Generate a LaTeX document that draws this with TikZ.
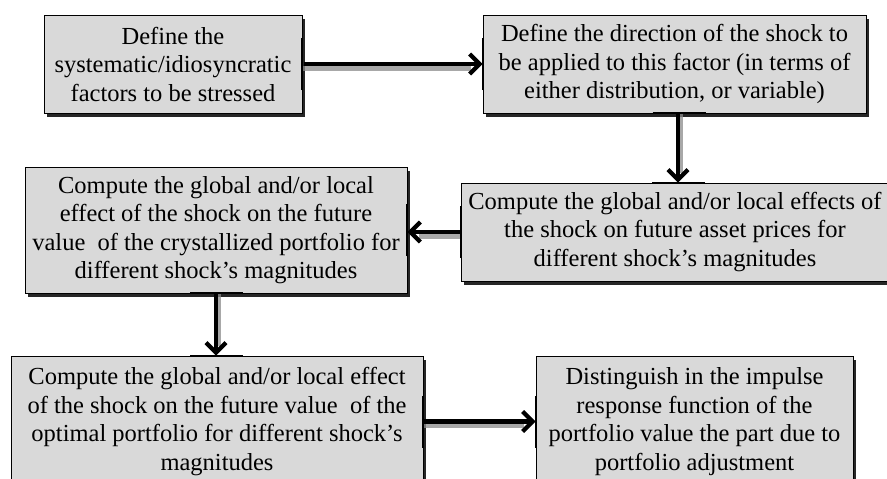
\documentclass[tikz,border=0pt]{standalone}
\usepackage{fontspec}
\setmainfont{Liberation Serif}
\usetikzlibrary{arrows.meta,shadows}
\definecolor{boxgray}{RGB}{217,217,217}
\definecolor{shadegray}{RGB}{140,140,140}
\tikzset{
  stepbox/.style={draw=black, line width=0.9pt, fill=boxgray, inner sep=0pt,
    align=center, font=\fontsize{24.5}{28.5}\selectfont,
    drop shadow={shadow xshift=2.5pt, shadow yshift=-4pt, fill=black, opacity=0.85}},
  flow/.style={line width=4.2pt, -{Straight Barb[length=10pt,width=20pt]}},
  flowshade/.style={line width=4.5pt, draw=shadegray, opacity=0.75},
  edgemark/.style={line width=2pt, black}
}
\begin{document}
\begin{tikzpicture}[x=1pt,y=-1pt]
\useasboundingbox (0,0) rectangle (887,479);
\clip (0,0) rectangle (887,479);
\fill[white] (0,0) rectangle (887,479);

\node[stepbox, minimum width=258pt, minimum height=98pt] (b1) at (173,64)
  {Define the\\systematic/idiosyncratic\\factors to be stressed};
\node[stepbox, minimum width=383pt, minimum height=98pt] (b2) at (674.5,64)
  {Define the direction of the shock to\\be applied to this factor (in terms of\\either distribution, or variable)};
\node[stepbox, minimum width=428pt, minimum height=98pt] (b3) at (675,232)
  {Compute the global and/or local effects of\\the shock on future asset prices for\\different shock’s magnitudes};
\node[stepbox, minimum width=382pt, minimum height=126pt] (b4) at (216,230)
  {Compute the global and/or local\\effect of the shock on the future\\value\ \ of the crystallized portfolio for\\different shock’s magnitudes};
\node[stepbox, minimum width=412pt, minimum height=131pt] (b5) at (217,421.5)
  {Compute the global and/or local effect\\of the shock on the future value\ \ of the\\optimal portfolio for different shock’s\\magnitudes};
\node[stepbox, minimum width=317pt, minimum height=131pt] (b6) at (694.5,421.5)
  {Distinguish in the impulse\\response function of the\\portfolio value the part due to\\portfolio adjustment};

% edge marks where connectors meet boxes
\draw[edgemark] ([yshift=-26pt]b1.east) -- ([yshift=26pt]b1.east);
\draw[edgemark] ([yshift=-26pt]b2.west) -- ([yshift=26pt]b2.west);
\draw[edgemark] ([xshift=-22pt]b2.south) -- ([xshift=31pt]b2.south);
\draw[edgemark] ([xshift=-23pt]b3.north) -- ([xshift=30pt]b3.north);
\draw[edgemark] ([yshift=-26pt]b3.west) -- ([yshift=26pt]b3.west);
\draw[edgemark] ([yshift=-26pt]b4.east) -- ([yshift=26pt]b4.east);
\draw[edgemark] ([xshift=-26pt]b4.south) -- ([xshift=27pt]b4.south);
\draw[edgemark] ([xshift=-27pt]b5.north) -- ([xshift=26pt]b5.north);
\draw[edgemark] ([yshift=-26pt]b5.east) -- ([yshift=26pt]b5.east);
\draw[edgemark] ([yshift=-26pt]b6.west) -- ([yshift=26pt]b6.west);

% connectors: shadows
\draw[flowshade] ([shift={(1,4.5)}]b1.east) -- ([shift={(-12,4.5)}]b2.west);
\draw[flowshade] ([shift={(6.5,1)}]b2.south) -- ([shift={(6.5,-10)}]b2.south |- b3.north);
\draw[flowshade] ([shift={(-1,4.5)}]b3.west) -- ([shift={(12,4.5)}]b3.west -| b4.east);
\draw[flowshade] ([shift={(3,1)}]b4.south) -- ([shift={(3,-10)}]b4.south |- b5.north);
\draw[flowshade] ([shift={(1,4.5)}]b5.east) -- ([shift={(-12,4.5)}]b6.west);

% connectors
\draw[flow] ([xshift=2pt]b1.east) -- (b2.west);
\draw[flow] ([shift={(3.5,0)}]b2.south) -- ([xshift=3.5pt]b2.south |- b3.north);
\draw[flow] (b3.west) -- (b3.west -| b4.east);
\draw[flow] (b4.south) -- (b4.south |- b5.north);
\draw[flow] (b5.east) -- (b6.west);
\end{tikzpicture}
\end{document}
